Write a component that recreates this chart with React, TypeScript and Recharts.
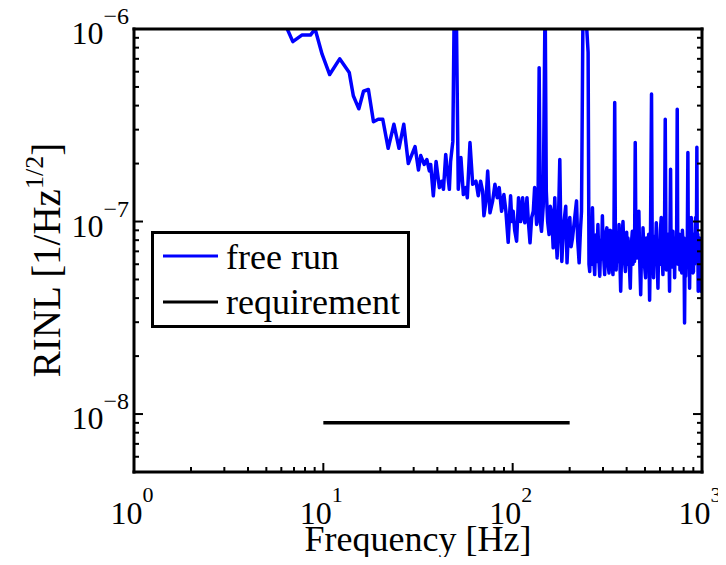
import { LineChart, Line, XAxis, YAxis } from 'recharts';

// free run spectrum
const freeRunFreq = [
  5.8, 6.45, 6.9, 7.7, 8.55, 9.05, 9.85, 10.8, 12.2, 13.7, 14.4, 15.4, 16.3, 17.3, 18.4, 19.5,
  20.6, 22.0, 23.6, 25.1, 26.6, 28.1, 30.5, 31.8, 32.7, 34.1, 35.2, 36.3, 36.9, 38.1, 39.4, 41.0,
  42.2, 43.1, 44.3, 44.8, 46.3, 47.0, 48.3, 49.2, 50.3, 51.6, 53.3, 54.9, 56.6, 57.6, 59.5, 61.5,
  64.0, 65.8, 67.7, 69.4, 70.5, 72.3, 73.8, 75.9, 78.4, 80.6, 82.9, 84.9, 87.4, 89.9, 92.1, 94.7,
  97.5, 99, 100.6, 102.5, 104.9, 107.4, 110.1, 112.9, 114.5, 116, 119, 121, 123.5, 126, 128.5,
  130.6, 133.8, 136, 138, 140, 142, 145, 148.4, 150.5, 153, 155.7, 158, 160.5, 163.7, 166.9, 169,
  171.7, 174.5, 177.4, 179.5, 181.8, 186, 190.7, 193.7, 197, 200.3, 203.5, 207, 212.8, 217.4,
  220.5, 224.4, 228, 231, 235.5, 240.4, 250.3, 253, 255.3, 258, 260.5, 263.9, 267, 271.2, 275,
  278.5, 282, 285, 288.4, 292, 294.5, 297.8, 301, 306.2, 310, 314.5, 318, 322.9, 327, 332.3, 335,
  338.6, 342.5, 345.9, 349, 352, 355.3, 360, 364.7, 368, 372, 377, 382.5, 388, 394, 400, 403,
  406.5, 412, 418, 423, 428.5, 432, 436, 440, 444, 448, 453.5, 458, 464, 469, 474.4, 480, 484,
  488, 494, 498, 503.7, 508, 513, 518.3, 523, 528.8, 534, 541.3, 546, 550, 554.9, 560, 566,
  573.7, 579, 585.2, 591, 597, 603, 609.2, 615, 621.8, 627, 633, 639.5, 645, 649, 653.1, 658,
  663, 668, 674, 678, 682.4, 687, 692, 697, 702.2, 708, 712, 716.9, 722, 728, 734, 739.9, 745,
  750, 754.5, 760, 765, 771, 776.4, 782, 788, 793.2, 798, 803, 808.8, 814, 820, 826.6, 832, 837,
  842.3, 847, 853, 860, 866, 872, 877.8, 884, 890, 896, 901.8, 907, 913, 919, 924.8, 930, 935,
  939.5, 944, 950, 955.1, 960, 965, 970.8, 976, 981, 986.5, 992, 996, 1000,
];
const freeRunRinl = [
  1.2e-6, 1.0e-6, 8.6e-7, 9.3e-7, 9.3e-7, 1.0e-6, 7.4e-7, 5.8e-7, 7.0e-7, 5.95e-7, 4.5e-7, 3.85e-7,
  4.75e-7, 4.85e-7, 3.3e-7, 3.4e-7, 3.4e-7, 2.4e-7, 3.2e-7, 2.4e-7, 3.2e-7, 2.0e-7, 2.45e-7,
  1.85e-7, 2.2e-7, 1.98e-7, 2.1e-7, 1.83e-7, 1.98e-7, 1.36e-7, 2.05e-7, 1.5e-7, 1.62e-7, 1.47e-7,
  2.23e-7, 1.98e-7, 1.47e-7, 2.05e-7, 2.6e-7, 1.5e-6, 1.5e-6, 1.47e-7, 2.15e-7, 1.38e-7, 1.5e-7,
  1.33e-7, 2.57e-7, 1.56e-7, 1.62e-7, 1.36e-7, 1.62e-7, 1.44e-7, 1.07e-7, 1.28e-7, 1.83e-7,
  1.11e-7, 1.28e-7, 1.56e-7, 1.33e-7, 1.5e-7, 1.13e-7, 1.38e-7, 1.13e-7, 7.8e-8,
  1.36e-7, 1.0e-7, 1.13e-7, 9.0e-8, 7.9e-8, 1.33e-7, 1.0e-7, 1.33e-7, 1.05e-7, 9.85e-8, 1.33e-7,
  1.0e-7, 7.75e-8, 1.05e-7, 1.13e-7, 1.5e-7, 9.65e-8, 1.1e-7, 6.3e-7, 1.0e-7, 8.9e-8, 1.2e-7,
  1.5e-6, 1.44e-7, 1.0e-7, 8.56e-8, 1.2e-7, 1.11e-7, 7.3e-8, 1.33e-7, 9.0e-8, 6.47e-8, 1.0e-7,
  2.1e-7, 9.0e-8, 6.2e-8, 9.65e-8, 1.2e-7, 6.1e-8, 9.0e-8, 1.05e-7, 7.4e-8, 8.2e-8, 1.05e-7,
  1.28e-7, 8.0e-8, 6.1e-8, 9.0e-8, 1.13e-7, 1.5e-6, 1.5e-6, 7.56e-7, 6.0e-8, 5.5e-8, 8.8e-8,
  6.0e-8, 1.18e-7, 6.8e-8, 5.3e-8, 8.5e-8, 6.2e-8, 9.65e-8, 6.5e-8, 5.2e-8, 8.0e-8, 6.4e-8,
  1.07e-7, 7.0e-8, 5.3e-8, 8.6e-8, 9.27e-8, 6.2e-8, 5.4e-8, 9.0e-8, 8.9e-8, 6.0e-8, 5.3e-8,
  8.0e-8, 4.15e-7, 7.0e-8, 5.6e-8, 8.2e-8, 6.2e-8, 9.65e-8, 6.5e-8, 4.34e-8, 7.6e-8, 1.0e-7,
  6.6e-8, 5.5e-8, 8.8e-8, 6.0e-8, 8.2e-8, 6.4e-8, 4.5e-8, 7.5e-8, 8.9e-8, 6.0e-8, 7.8e-8, 6.2e-8,
  2.57e-7, 7.0e-8, 6.47e-8, 9.0e-8, 1.13e-7, 6.2e-8, 4.17e-8, 7.8e-8, 6.0e-8, 9.27e-8, 6.8e-8,
  5.8e-8, 5.1e-8, 8.2e-8, 7.6e-8, 6.7e-8, 8.6e-8, 3.9e-8, 7.4e-8, 4.6e-7, 6.8e-8, 8.4e-8, 5.1e-8,
  8.0e-8, 6.2e-8, 9.85e-8, 6.6e-8, 4.5e-8, 7.8e-8, 6.0e-8, 9.0e-8, 1.05e-7, 6.8e-8, 5.3e-8,
  8.4e-8, 7.0e-8, 3.4e-7, 7.4e-8, 5.6e-8, 6.2e-8, 8.6e-8, 6.2e-8, 8.0e-8, 4.34e-8, 9.0e-8,
  1.87e-7, 6.4e-8, 7.6e-8, 5.8e-8, 8.9e-8, 6.4e-8, 7.6e-8, 5.1e-8, 8.2e-8, 6.0e-8, 7.4e-8,
  3.83e-7, 6.6e-8, 8.0e-8, 5.97e-8, 8.6e-8, 5.6e-8, 8.0e-8, 7.15e-8, 5.4e-8, 9.0e-8, 7.9e-8,
  5.6e-8, 8.2e-8, 2.97e-8, 6.6e-8, 5.2e-8, 7.9e-8, 6.2e-8, 8.6e-8, 2.28e-7, 6.4e-8, 8.4e-8,
  4.5e-8, 7.8e-8, 5.8e-8, 1.05e-7, 6.2e-8, 8.0e-8, 5.4e-8, 5.5e-8, 8.6e-8, 6.0e-8, 8.0e-8,
  1.05e-7, 6.4e-8, 8.8e-8, 2.43e-7, 7.0e-8, 8.6e-8, 4.34e-8, 7.2e-8, 5.6e-8, 8.2e-8, 6.0e-8,
  7.6e-8, 4.34e-8, 7.8e-8, 5.6e-8, 8e-8,
];

const requirementFreq = [10, 200];
const requirementRinl = [9e-9, 9e-9];

const xTicks = [1, 2, 3, 4, 5, 6, 7, 8, 9, 10, 20, 30, 40, 50, 60, 70, 80, 90, 100, 200, 300, 400, 500, 600, 700, 800, 900, 1000];
const yTicks = [
  6e-9, 7e-9, 8e-9, 9e-9, 1e-8, 2e-8, 3e-8, 4e-8, 5e-8, 6e-8, 7e-8, 8e-8, 9e-8,
  1e-7, 2e-7, 3e-7, 4e-7, 5e-7, 6e-7, 7e-7, 8e-7, 9e-7, 1e-6,
];

const freeRun = freeRunFreq.map((f, i) => ({ f, v: freeRunRinl[i] }));
const requirement = requirementFreq.map((f, i) => ({ f, v: requirementRinl[i] }));

const FONT = '"Liberation Serif", "Times New Roman", serif';

const expOf = (v: number) => Math.round(Math.log10(v));
const isMajor = (v: number) => Math.abs(Math.log10(v) - expOf(v)) < 1e-6;
const exp = (n: number) => (n < 0 ? '\u2212' + Math.abs(n) : String(n));

const BottomTick = ({ x, y, payload }: any) => {
  const major = isMajor(payload.value);
  return (
    <g>
      <line x1={x} x2={x} y1={y} y2={y - (major ? 9 : 5)} stroke="#000" strokeWidth={2} />
      {major && (
        <text x={x - 2} y={y + 52} textAnchor="middle" fontFamily={FONT} fontSize={32} fill="#000">
          10<tspan dy={-22} fontSize={22}>{exp(expOf(payload.value))}</tspan>
        </text>
      )}
    </g>
  );
};

const TopTick = ({ x, y, payload }: any) => {
  const major = isMajor(payload.value);
  return <line x1={x} x2={x} y1={y} y2={y + (major ? 9 : 5)} stroke="#000" strokeWidth={2} />;
};

const LeftTick = ({ x, y, payload }: any) => {
  const major = isMajor(payload.value);
  return (
    <g>
      <line x1={x} x2={x + (major ? 9 : 5)} y1={y} y2={y} stroke="#000" strokeWidth={2} />
      {major && (
        <text x={x - 5} y={y + 15} textAnchor="end" fontFamily={FONT} fontSize={32} fill="#000">
          10<tspan dy={-20} fontSize={24}>{exp(expOf(payload.value))}</tspan>
        </text>
      )}
    </g>
  );
};

const RightTick = ({ x, y, payload }: any) => {
  const major = isMajor(payload.value);
  return <line x1={x} x2={x - (major ? 9 : 5)} y1={y} y2={y} stroke="#000" strokeWidth={2} />;
};

const frameLine = { stroke: '#000', strokeWidth: 3, strokeLinecap: 'square' as const };

export default function App() {
  return (
    <div style={{ position: 'relative', margin: -8, width: 726, height: 565, background: '#fff', fontFamily: FONT }}>
      <LineChart width={726} height={565} margin={{ top: 28, right: 23, bottom: 0, left: 0 }} style={{ overflow: 'visible' }}>
        <XAxis
          xAxisId="b"
          dataKey="f"
          type="number"
          scale="log"
          domain={[1, 1000]}
          allowDataOverflow
          ticks={xTicks}
          interval={0}
          height={93}
          tickSize={0}
          tickMargin={0}
          tickLine={false}
          axisLine={frameLine}
          tick={<BottomTick />}
          label={{
            content: () => (
              <text x={418} y={551} textAnchor="middle" fontFamily={FONT} fontSize={36} fill="#000">
                Frequency [Hz]
              </text>
            ),
          }}
        />
        <XAxis
          xAxisId="t"
          orientation="top"
          type="number"
          scale="log"
          domain={[1, 1000]}
          allowDataOverflow
          ticks={xTicks}
          interval={0}
          height={1}
          tickSize={0}
          tickMargin={0}
          tickLine={false}
          axisLine={frameLine}
          tick={<TopTick />}
        />
        <YAxis
          yAxisId="l"
          type="number"
          scale="log"
          domain={[5e-9, 1e-6]}
          allowDataOverflow
          ticks={yTicks}
          interval={0}
          width={134}
          tickSize={0}
          tickMargin={0}
          tickLine={false}
          axisLine={frameLine}
          tick={<LeftTick />}
          label={{
            content: () => (
              <text transform="rotate(-90)" x={-260} y={60} textAnchor="middle" fontFamily={FONT} fontSize={39} fill="#000">
                RINL [1/Hz<tspan dy={-17} fontSize={26}>1/2</tspan><tspan dy={17}>]</tspan>
              </text>
            ),
          }}
        />
        <YAxis
          yAxisId="r"
          orientation="right"
          type="number"
          scale="log"
          domain={[5e-9, 1e-6]}
          allowDataOverflow
          ticks={yTicks}
          interval={0}
          width={1}
          tickSize={0}
          tickMargin={0}
          tickLine={false}
          axisLine={frameLine}
          tick={<RightTick />}
        />
        <Line
          xAxisId="b"
          yAxisId="l"
          data={freeRun}
          dataKey="v"
          type="linear"
          stroke="#0000ff"
          strokeWidth={3.5}
          strokeLinejoin="round"
          dot={false}
          isAnimationActive={false}
        />
        <Line
          xAxisId="b"
          yAxisId="l"
          data={requirement}
          dataKey="v"
          type="linear"
          stroke="#000"
          strokeWidth={3.5}
          dot={false}
          isAnimationActive={false}
        />
      </LineChart>
      <div
        style={{
          position: 'absolute',
          left: 151,
          top: 231,
          width: 253,
          height: 91,
          border: '3px solid #000',
          background: '#fff',
        }}
      >
        <svg width={253} height={91} style={{ display: 'block' }}>
          <line x1={9} x2={64} y1={22} y2={22} stroke="#0000ff" strokeWidth={3} />
          <text x={72} y={35} fontFamily={FONT} fontSize={36} fill="#000">free run</text>
          <line x1={9} x2={64} y1={68} y2={68} stroke="#000" strokeWidth={3} />
          <text x={72} y={80} fontFamily={FONT} fontSize={36} fill="#000">requirement</text>
        </svg>
      </div>
    </div>
  );
}
